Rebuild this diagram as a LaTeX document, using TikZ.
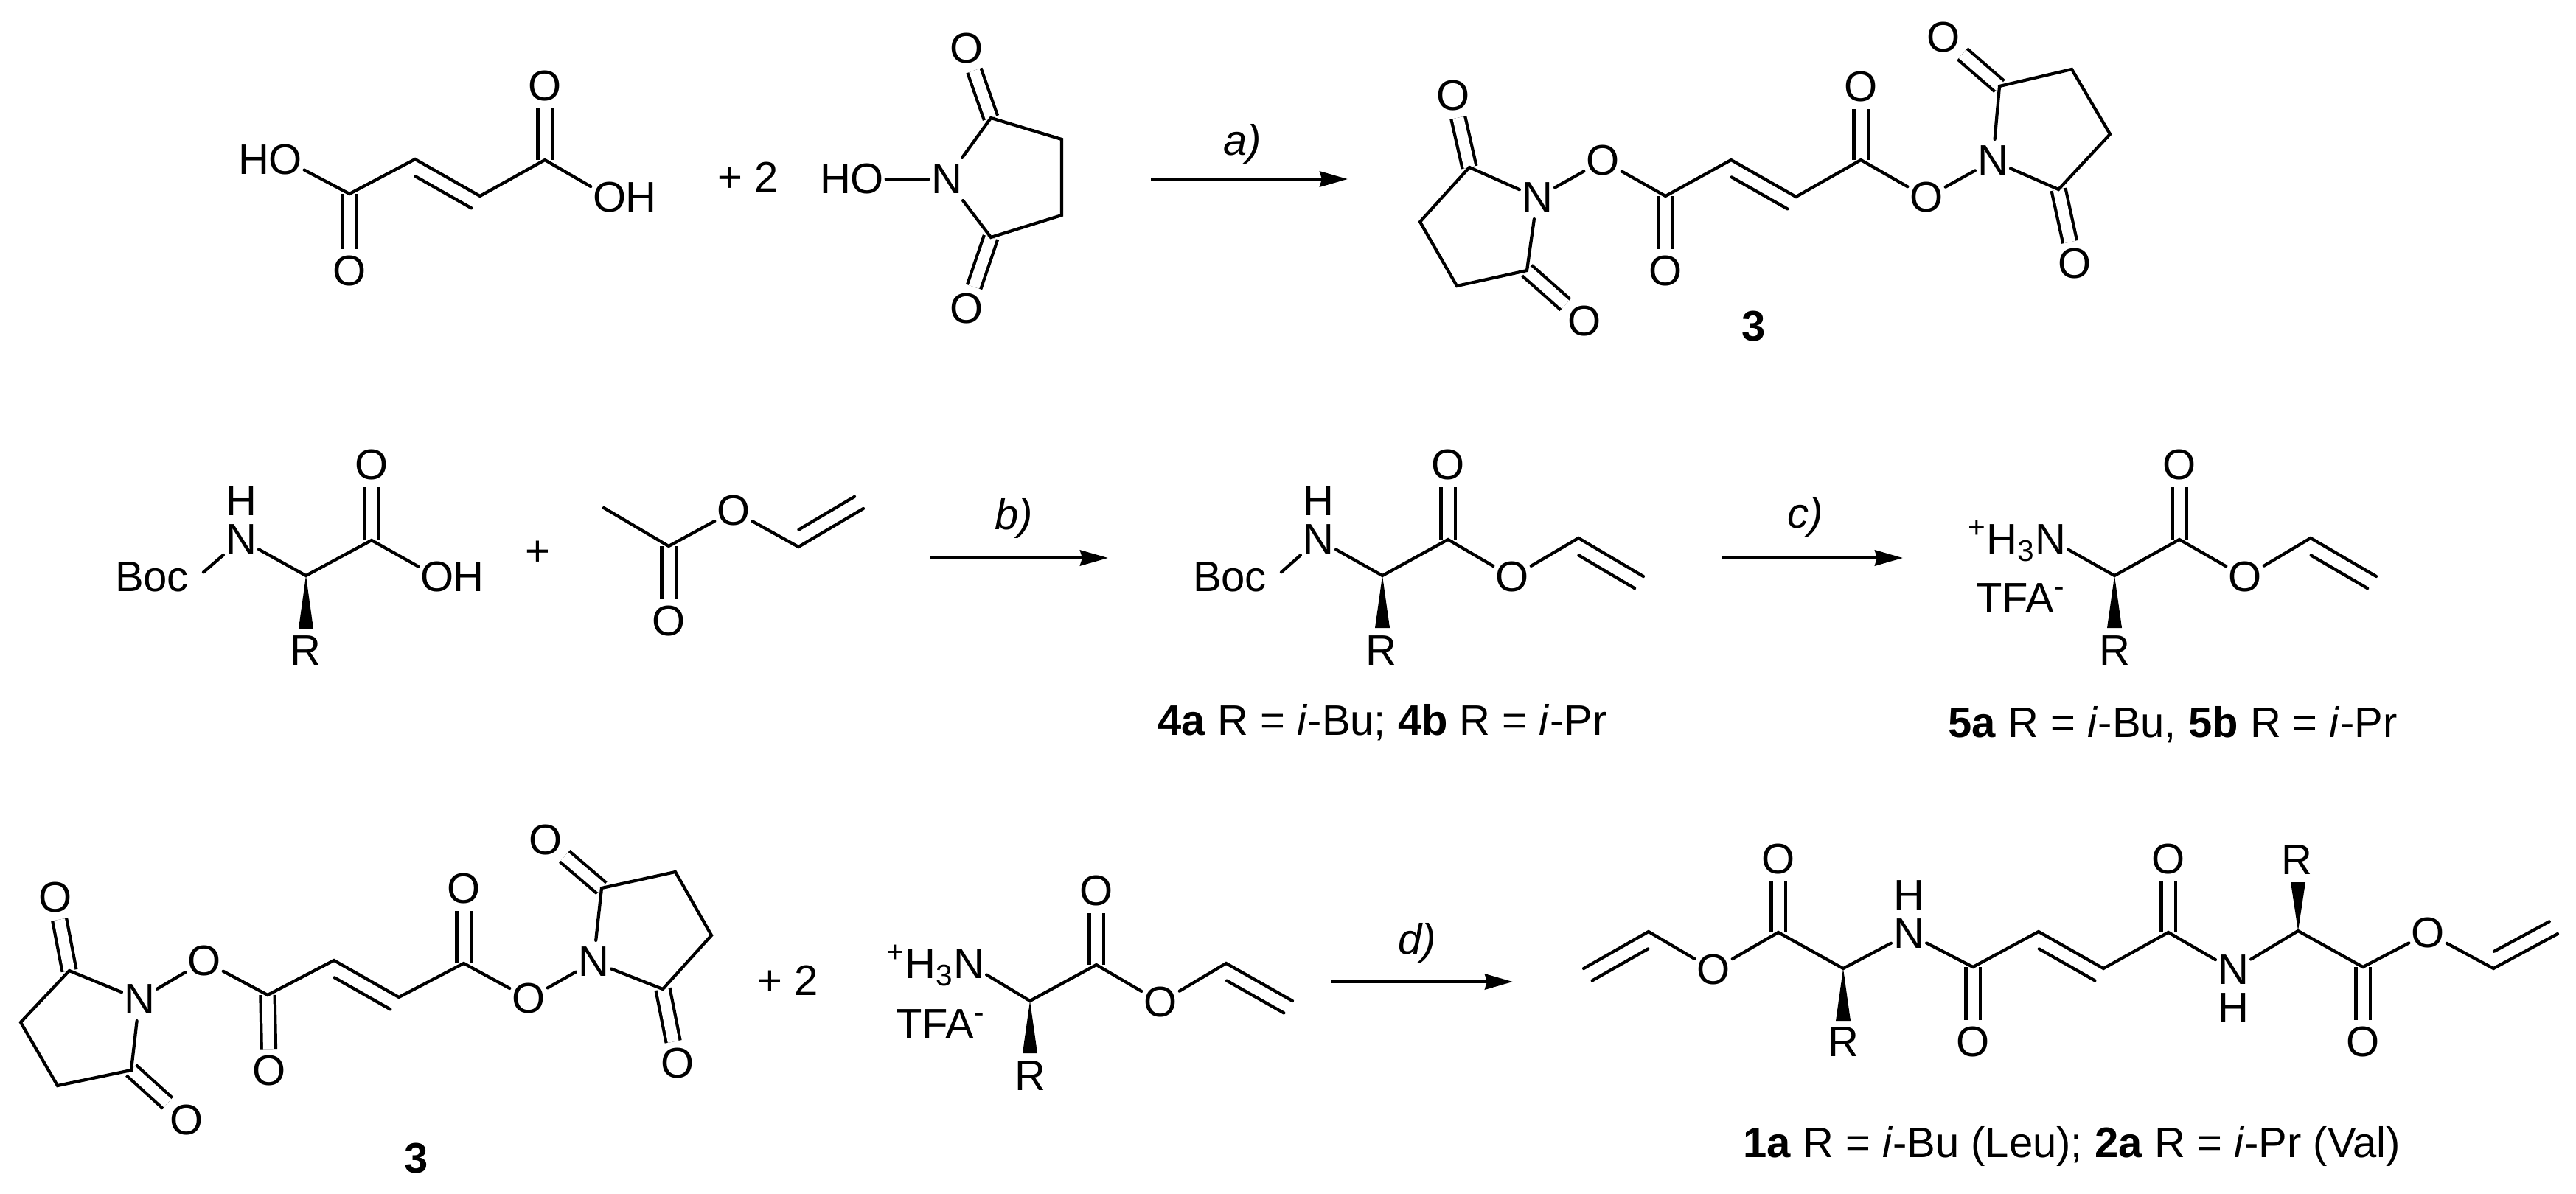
\documentclass[tikz,border=0pt]{standalone}
\usepackage{fontspec}
\setmainfont{Liberation Sans}
\usetikzlibrary{arrows.meta, calc, positioning}
\tikzset{
  atom/.style={inner xsep=.7pt, inner ysep=2.4pt},
  atomnh/.style={inner xsep=.7pt, inner ysep=.8pt},
  tight/.style={inner sep=0pt},
  tightl/.style={tight, anchor=base east, xshift=1.4pt},
  tightr/.style={tight, anchor=base west, xshift=-1.4pt},
  bond/.style={line width=1.2pt, line cap=round},
  dbl/.style={line width=1.2pt, double, double distance=.15cm},
  rxn/.style={line width=1.3pt, -{Stealth[length=.38cm,width=.21cm,inset=.03cm]}},
}
\newcommand{\innerbond}[3]{\draw[bond] ($(#1)!.12!(#2)!.2cm!#3:(#2)$) -- ($(#2)!.02!(#1)!.2cm!-1*#3:(#1)$);}
\newcommand{\wedgebond}[2]{\fill (#1) -- ($(#2)+(-.1,0)$) -- ($(#2)+(.1,0)$) -- cycle;}
\begin{document}
\begin{tikzpicture}[font=\fontsize{16.5}{20}\selectfont]
\useasboundingbox (0,0) rectangle (34.94,-16.2);
 \begin{scope}
\node[atom] (Oa) at (3.87,-2.17) {O};
\node[tightl] (Ha) at (Oa.base west) {H};
\coordinate (C1) at (4.74,-2.63);
\coordinate (C2) at (5.63,-2.16);
\coordinate (C3) at (6.51,-2.66);
\coordinate (C4) at (7.39,-2.17);
\node[atom] (Ob) at (4.74,-3.68) {O};
\node[atom] (Oc) at (7.39,-1.17) {O};
\node[atom] (Od) at (8.27,-2.68) {O};
\node[tightr] (Hd) at (Od.base east) {H};
\draw[dbl] (C1)--(Ob);
\draw[dbl] (C4)--(Oc);
\draw[bond] (Oa)--(C1)--(C2)--(C3)--(C4)--(Od);
\innerbond{C2}{C3}{-90}
 \end{scope}
\node (plusA) at (10.15,-2.40) {+ 2};
 \begin{scope}
\node[atom] (N) at (12.84,-2.43) {N};
\node[atom] (O) at (11.76,-2.43) {O};
\node[tightl] (H) at (O.base west) {H};
\coordinate (Ca) at (13.44,-1.60);
\coordinate (Cb) at (13.44,-3.22);
\coordinate (Cc) at (14.40,-1.89);
\coordinate (Cd) at (14.40,-2.92);
\node[atom] (Oa) at (13.11,-.66) {O};
\node[atom] (Ob) at (13.11,-4.19) {O};
\draw[dbl] (Ca)--(Oa);
\draw[dbl] (Cb)--(Ob);
\draw[bond] (O)--(N);
\draw[bond] (N)--(Ca)--(Cc)--(Cd)--(Cb)--(N);
 \end{scope}
\coordinate (arrA1) at (15.61,-2.43);
\coordinate (arrA2) at (18.28,-2.43);
\draw[rxn] (arrA1)--(arrA2);
\node (lblA) at (16.85,-1.95) {\textit{a)}};
 \begin{scope}
\node[atom] (Na) at (20.85,-2.68) {N};
\coordinate (Ca) at (19.93,-2.27);
\coordinate (Cb) at (20.71,-3.67);
\coordinate (Cc) at (19.26,-3.01);
\coordinate (Cd) at (19.76,-3.88);
\node[atom] (Oa) at (19.71,-1.30) {O};
\node[atom] (Ob) at (21.49,-4.36) {O};
\node[atom] (Oc) at (21.74,-2.18) {O};
\coordinate (C1) at (22.59,-2.66);
\coordinate (C2) at (23.48,-2.17);
\coordinate (C3) at (24.36,-2.67);
\coordinate (C4) at (25.24,-2.17);
\node[atom] (Od) at (22.59,-3.68) {O};
\node[atom] (Oe) at (25.24,-1.18) {O};
\node[atom] (Of) at (26.13,-2.68) {O};
\node[atom] (Nb) at (27.03,-2.18) {N};
\coordinate (Ce) at (27.92,-2.57);
\coordinate (Cf) at (27.12,-1.17);
\coordinate (Cg) at (28.10,-.94);
\coordinate (Ch) at (28.62,-1.82);
\node[atom] (Og) at (26.36,-.51) {O};
\node[atom] (Oh) at (28.14,-3.58) {O};
\draw[dbl] (Ca)--(Oa);
\draw[dbl] (Cb)--(Ob);
\draw[dbl] (C1)--(Od);
\draw[dbl] (C4)--(Oe);
\draw[dbl] (Cf)--(Og);
\draw[dbl] (Ce)--(Oh);
\draw[bond] (Na)--(Ca)--(Cc)--(Cd)--(Cb)--(Na);
\draw[bond] (Na)--(Oc)--(C1)--(C2)--(C3)--(C4)--(Of)--(Nb);
\draw[bond] (Nb)--(Cf)--(Cg)--(Ch)--(Ce)--(Nb);
\innerbond{C2}{C3}{-90}
\node (lblThree) at (23.79,-4.43) {\textbf{3}};
 \end{scope}
 \begin{scope}
\node (Boc) at (2.06,-7.83) {Boc};
\node[atomnh] (N) at (3.27,-7.32) {N};
\node[tight] (H) at (3.27,-6.80) {H};
\coordinate (Ca) at (4.15,-7.81);
\coordinate (C1) at (5.04,-7.33);
\node[atom] (Oa) at (5.04,-6.31) {O};
\node[atom] (Ob) at (5.93,-7.83) {O};
\node[tightr] (Hb) at (Ob.base east) {H};
\node (R) at (4.14,-8.83) {R};
\coordinate (Wb) at (4.15,-8.53);
\draw[dbl] (C1)--(Oa);
\draw[bond, shorten >=.1cm] (N)--(Boc.east);
\draw[bond] (N)--(Ca)--(C1)--(Ob);
\wedgebond{Ca}{Wb}
 \end{scope}
\node (plusB) at (7.29,-7.51) {+};
 \begin{scope}
\coordinate (Me) at (8.19,-6.89);
\coordinate (C1) at (9.07,-7.41);
\node[atom] (Oa) at (9.07,-8.43) {O};
\node[atom] (Ob) at (9.95,-6.93) {O};
\coordinate (C2) at (10.83,-7.42);
\coordinate (C3) at (11.71,-6.90);
\draw[dbl] (C1)--(Oa);
\draw[bond] (Me)--(C1)--(Ob)--(C2)--(C3);
\innerbond{C2}{C3}{90}
 \end{scope}
\coordinate (arrB1) at (12.61,-7.57);
\coordinate (arrB2) at (15.03,-7.57);
\draw[rxn] (arrB1)--(arrB2);
\node (lblB) at (13.75,-7.03) {\textit{b)}};
 \begin{scope}
\node (Boc) at (16.68,-7.83) {Boc};
\node[atomnh] (N) at (17.88,-7.32) {N};
\node[tight] (H) at (17.88,-6.80) {H};
\coordinate (Ca) at (18.75,-7.81);
\coordinate (C1) at (19.64,-7.32);
\node[atom] (Oa) at (19.64,-6.31) {O};
\node[atom] (Ob) at (20.51,-7.83) {O};
\coordinate (C2) at (21.41,-7.30);
\coordinate (C3) at (22.29,-7.82);
\node (R) at (18.73,-8.83) {R};
\coordinate (Wb) at (18.75,-8.52);
\draw[dbl] (C1)--(Oa);
\draw[bond, shorten >=.1cm] (N)--(Boc.east);
\draw[bond] (N)--(Ca)--(C1)--(Ob)--(C2)--(C3);
\innerbond{C2}{C3}{-90}
\wedgebond{Ca}{Wb}
\node (lblFour) at (18.75,-9.80) {\textbf{4a} R = \textit{i}-Bu; \textbf{4b} R = \textit{i}-Pr};
 \end{scope}
\coordinate (arrC1) at (23.36,-7.57);
\coordinate (arrC2) at (25.81,-7.57);
\draw[rxn] (arrC1)--(arrC2);
\node (lblC) at (24.49,-7.01) {\textit{c)}};
 \begin{scope}
\node[atom] (N) at (27.81,-7.32) {N};
\node[tightl] (Hn) at (N.base west) {\textsuperscript{+}H\textsubscript{3}};
\node (Tfa) at (27.41,-8.12) {TFA\textsuperscript{-}};
\coordinate (Ca) at (28.68,-7.81);
\coordinate (C1) at (29.56,-7.32);
\node[atom] (Oa) at (29.56,-6.31) {O};
\node[atom] (Ob) at (30.45,-7.83) {O};
\coordinate (C2) at (31.34,-7.30);
\coordinate (C3) at (32.23,-7.82);
\node (R) at (28.68,-8.83) {R};
\coordinate (Wb) at (28.68,-8.52);
\draw[dbl] (C1)--(Oa);
\draw[bond] (N)--(Ca)--(C1)--(Ob)--(C2)--(C3);
\innerbond{C2}{C3}{-90}
\wedgebond{Ca}{Wb}
\node (lblFive) at (29.47,-9.83) {\textbf{5a} R = \textit{i}-Bu, \textbf{5b} R = \textit{i}-Pr};
 \end{scope}
 \begin{scope}
\node[atom] (Na) at (1.89,-13.56) {N};
\coordinate (Ca) at (.94,-13.17);
\coordinate (Cb) at (1.78,-14.52);
\coordinate (Cc) at (.28,-13.87);
\coordinate (Cd) at (.78,-14.73);
\node[atom] (Oa) at (.75,-12.18) {O};
\node[atom] (Ob) at (2.53,-15.20) {O};
\node[atom] (Oc) at (2.77,-13.04) {O};
\coordinate (C1) at (3.63,-13.50);
\coordinate (C2) at (4.53,-13.03);
\coordinate (C3) at (5.41,-13.53);
\coordinate (C4) at (6.29,-13.07);
\node[atom] (Od) at (3.65,-14.53) {O};
\node[atom] (Oe) at (6.29,-12.06) {O};
\node[atom] (Of) at (7.17,-13.55) {O};
\node[atom] (Nb) at (8.05,-13.05) {N};
\coordinate (Ce) at (8.99,-13.42);
\coordinate (Cf) at (8.16,-12.05);
\coordinate (Cg) at (9.16,-11.83);
\coordinate (Ch) at (9.65,-12.69);
\node[atom] (Og) at (7.40,-11.40) {O};
\node[atom] (Oh) at (9.19,-14.43) {O};
\draw[dbl] (Ca)--(Oa);
\draw[dbl] (Cb)--(Ob);
\draw[dbl] (C1)--(Od);
\draw[dbl] (C4)--(Oe);
\draw[dbl] (Cf)--(Og);
\draw[dbl] (Ce)--(Oh);
\draw[bond] (Na)--(Ca)--(Cc)--(Cd)--(Cb)--(Na);
\draw[bond] (Na)--(Oc)--(C1)--(C2)--(C3)--(C4)--(Of)--(Nb);
\draw[bond] (Nb)--(Cf)--(Cg)--(Ch)--(Ce)--(Nb);
\innerbond{C2}{C3}{-90}
\node (lblThree) at (5.65,-15.72) {\textbf{3}};
 \end{scope}
\node (plusC) at (10.69,-13.30) {+ 2};
 \begin{scope}
\node[atom] (N) at (13.14,-13.08) {N};
\node[tightl] (Hn) at (N.base west) {\textsuperscript{+}H\textsubscript{3}};
\node (Tfa) at (12.76,-13.90) {TFA\textsuperscript{-}};
\coordinate (Ca) at (13.97,-13.58);
\coordinate (C1) at (14.87,-13.09);
\node[atom] (Oa) at (14.87,-12.09) {O};
\node[atom] (Ob) at (15.74,-13.60) {O};
\coordinate (C2) at (16.63,-13.07);
\coordinate (C3) at (17.53,-13.58);
\node (R) at (13.97,-14.60) {R};
\coordinate (Wb) at (13.97,-14.29);
\draw[dbl] (C1)--(Oa);
\draw[bond] (N)--(Ca)--(C1)--(Ob)--(C2)--(C3);
\innerbond{C2}{C3}{-90}
\wedgebond{Ca}{Wb}
 \end{scope}
\coordinate (arrD1) at (18.05,-13.32);
\coordinate (arrD2) at (20.52,-13.32);
\draw[rxn] (arrD1)--(arrD2);
\node (lblD) at (19.22,-12.79) {\textit{d)}};
 \begin{scope}
\coordinate (V1) at (21.48,-13.14);
\coordinate (V2) at (22.36,-12.64);
\node[atom] (Oa) at (23.24,-13.16) {O};
\coordinate (C1) at (24.12,-12.65);
\node[atom] (Ob) at (24.12,-11.66) {O};
\coordinate (Ca) at (25.00,-13.14);
\node (Ra) at (25.00,-14.14) {R};
\coordinate (Wa) at (25.00,-13.85);
\node[atomnh] (Na) at (25.89,-12.67) {N};
\node[tight] (Ha) at (25.89,-12.15) {H};
\coordinate (C2) at (26.76,-13.12);
\node[atom] (Oc) at (26.76,-14.14) {O};
\coordinate (C3) at (27.65,-12.64);
\coordinate (C4) at (28.53,-13.14);
\coordinate (C5) at (29.41,-12.65);
\node[atom] (Od) at (29.41,-11.66) {O};
\node[atomnh] (Nb) at (30.29,-13.16) {N};
\node[tight] (Hb) at (30.29,-13.68) {H};
\coordinate (Cb) at (31.17,-12.63);
\node (Rb) at (31.15,-11.67) {R};
\coordinate (Wc) at (31.17,-11.97);
\coordinate (C6) at (32.05,-13.12);
\node[atom] (Oe) at (32.05,-14.14) {O};
\node[atom] (Of) at (32.93,-12.66) {O};
\coordinate (V3) at (33.82,-13.14);
\coordinate (V4) at (34.69,-12.67);
\draw[dbl] (C1)--(Ob);
\draw[dbl] (C2)--(Oc);
\draw[dbl] (C5)--(Od);
\draw[dbl] (C6)--(Oe);
\draw[bond] (V1)--(V2)--(Oa)--(C1)--(Ca)--(Na)--(C2)--(C3)--(C4)--(C5)--(Nb)--(Cb)--(C6)--(Of)--(V3)--(V4);
\innerbond{V2}{V1}{90}
\innerbond{C3}{C4}{-90}
\innerbond{V3}{V4}{90}
\wedgebond{Ca}{Wa}
\wedgebond{Cb}{Wc}
\node (lblOne) at (28.10,-15.55) {\textbf{1a} R = \textit{i}-Bu (Leu); \textbf{2a} R = \textit{i}-Pr (Val)};
 \end{scope}
\end{tikzpicture}
\end{document}
